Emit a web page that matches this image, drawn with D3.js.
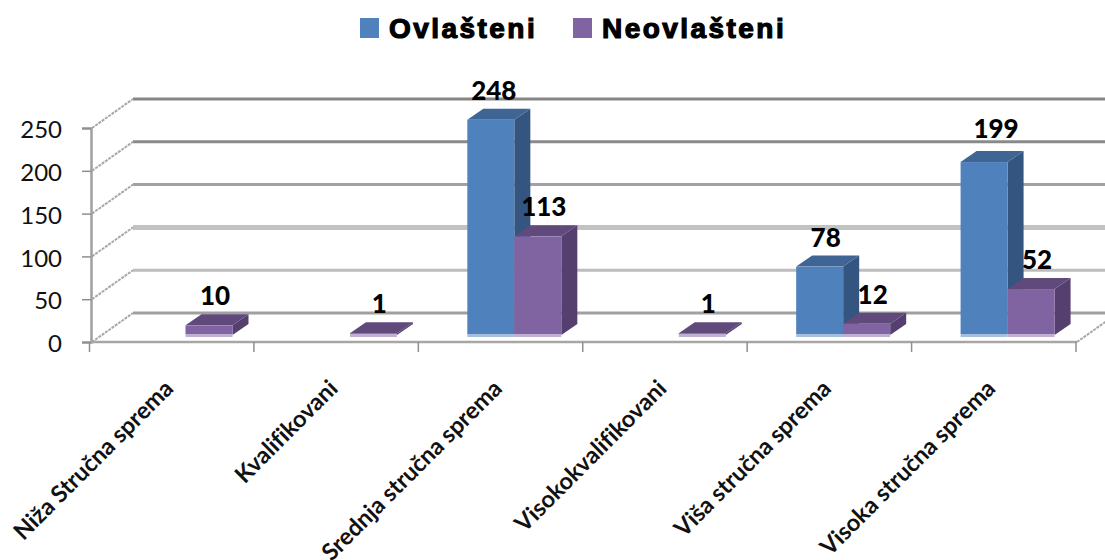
<!DOCTYPE html>
<html><head><meta charset="utf-8">
<script src="https://cdn.jsdelivr.net/npm/d3@7/dist/d3.min.js"></script>
<style>html,body{margin:0;background:#fff;overflow:hidden}svg{display:block}text{font-variant-ligatures:none}</style>
</head><body><svg id="c" width="1105" height="560"></svg>
<script>
const categories=["Niža Stručna sprema","Kvalifikovani","Srednja stručna sprema","Visokokvalifikovani","Viša stručna sprema","Visoka stručna sprema"];
const ovlasteni=[0,0,248,0,78,199];
const neovlasteni=[10,1,113,1,12,52];
const seriesNames=["Ovlašteni","Neovlašteni"];
const yTicks=[0,50,100,150,200,250];
const gridColors=["#a0a0a0","#bdbdbd","#c2c2c2","#a2a2a2","#8a8a8a","#868686"];
const gridWidths=[3,3,5,3,3,3];

const svg=d3.select("#c");
const font="Lato, sans-serif";
const x=d3.scaleBand().domain(categories).range([89.5,1076]);
const yAxisScale=d3.scaleLinear().domain([0,250]).range([342,128]);
const yBar=d3.scaleLinear().domain([0,250]).range([334,118]);
const depth={dx:41,dy:-29}, barDepth={dx:16,dy:-11};
const barW=47, barOff=49;

// back wall gridlines
svg.append("g").selectAll("line").data(yTicks).join("line")
  .attr("x1",92+depth.dx).attr("x2",1105)
  .attr("y1",(d)=>yAxisScale(d)+depth.dy).attr("y2",(d)=>yAxisScale(d)+depth.dy)
  .attr("stroke",(d,i)=>gridColors[i]).attr("stroke-width",(d,i)=>gridWidths[i]);
// side wall lines
svg.append("g").selectAll("line").data(yTicks).join("line")
  .attr("x1",92).attr("x2",92+depth.dx)
  .attr("y1",d=>yAxisScale(d)).attr("y2",d=>yAxisScale(d)+depth.dy)
  .attr("stroke","#a8a8a8").attr("stroke-width",2).attr("stroke-dasharray","3 1");
// floor right edge
svg.append("line").attr("x1",1077).attr("y1",342).attr("x2",1077+depth.dx).attr("y2",342+depth.dy)
  .attr("stroke","#a8a8a8").attr("stroke-width",2).attr("stroke-dasharray","3 1");

// y axis
const ya=svg.append("g").attr("transform","translate(91,0)")
  .call(d3.axisLeft(yAxisScale).tickValues(yTicks).tickSize(9).tickPadding(20).tickFormat(d3.format("d")));
ya.select(".domain").attr("stroke","#a0a0a0").attr("stroke-width",2.5);
ya.selectAll("line").attr("stroke","#8f8f8f").attr("stroke-width",1.5);
ya.selectAll("text").attr("font-family",font).attr("font-size",24).attr("fill","#111").attr("dy","0.4em");

// x axis line and ticks at band edges
svg.append("line").attr("x1",91).attr("x2",1077).attr("y1",342).attr("y2",342).attr("stroke","#a6a6a6").attr("stroke-width",2.5);
svg.append("g").selectAll("line").data(categories.map(c=>x(c)).concat([x.range()[1]])).join("line")
  .attr("x1",d=>d).attr("x2",d=>d).attr("y1",342).attr("y2",352).attr("stroke","#8f8f8f").attr("stroke-width",1.5);

// category labels
svg.append("g").selectAll("text").data(categories).join("text")
  .attr("transform",d=>`translate(${x(d)+x.bandwidth()/2+3},390) rotate(-45)`)
  .attr("text-anchor","end").attr("font-family",font).attr("font-weight",700).attr("font-size",23.5)
  .attr("fill","#111").text(d=>d);

// bars
const colors=[{f:"#4f81bd",s:"#33557f",t:"#3f6595",b:"#a5bfe0"},{f:"#8064a2",s:"#553f6f",t:"#604a7b",b:"#c0b1d3"}];
function drawSeries(vals,idx){
  const g=svg.append("g"), c=colors[idx];
  const items=categories.map((cat,i)=>({cat,v:vals[i]})).filter(d=>d.v>0);
  const left=d=>x(d.cat)+barOff+idx*barW;
  const y0=yBar(0);
  g.selectAll(".side").data(items).join("polygon").attr("fill",c.s).attr("points",d=>{
    const r=left(d)+barW,t=yBar(d.v);
    return [[r,t],[r+barDepth.dx,t+barDepth.dy],[r+barDepth.dx,y0+barDepth.dy+1],[r,y0+1]].join(" ");});
  g.selectAll(".top").data(items).join("polygon").attr("fill",c.t).attr("points",d=>{
    const l=left(d),r=l+barW,t=yBar(d.v);
    return [[l,t],[l+barDepth.dx,t+barDepth.dy],[r+barDepth.dx,t+barDepth.dy],[r,t]].join(" ");});
  g.selectAll("rect.front").data(items).join("rect").attr("class","front").attr("x",left).attr("y",d=>yBar(d.v)).attr("width",barW)
    .attr("height",d=>y0-yBar(d.v)).attr("fill",c.f);
  g.selectAll("rect.strip").data(items).join("rect").attr("class","strip").attr("x",left).attr("y",y0).attr("width",barW).attr("height",3).attr("fill",c.b);
  return {g,items,left};
}
const r0=drawSeries(ovlasteni,0), r1=drawSeries(neovlasteni,1);
// the 199 label sits further right and higher in the source chart
const nudge=v=>v===199?[8,-4]:[v===248?-1:2,0];
[r0,r1].forEach(r=>{
  r.g.selectAll("text").data(r.items).join("text")
   .attr("x",d=>r.left(d)+barW/2+4+nudge(d.v)[0]).attr("y",d=>yBar(d.v)-20+nudge(d.v)[1])
   .attr("text-anchor","middle").attr("font-family",font).attr("font-weight",900).attr("font-size",26).attr("fill","#000")
   .text(d=>d.v);
});

// legend
const legendX=[360,573], legendTX=[389,602];
const lg=svg.append("g");
seriesNames.forEach((n,i)=>{
  lg.append("rect").attr("x",legendX[i]).attr("y",18).attr("width",19).attr("height",20).attr("fill",colors[i].f);
  lg.append("text").attr("x",legendTX[i]).attr("y",38).attr("font-family","'Liberation Sans', Arial, sans-serif")
    .attr("font-weight",700).attr("font-size",28).attr("letter-spacing",2.45).attr("stroke","#000").attr("stroke-width",1.2).attr("fill","#000").text(n);
});
</script></body></html>
